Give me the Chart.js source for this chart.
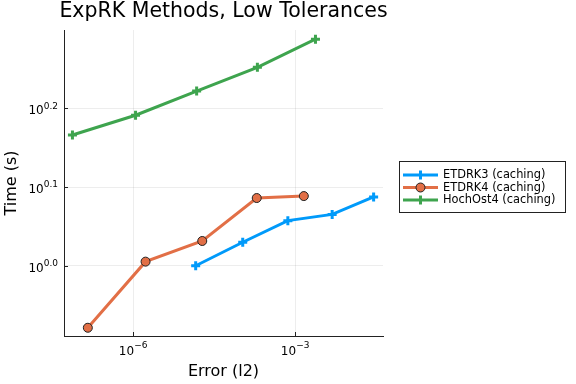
<!DOCTYPE html>
<html><head><meta charset="utf-8">
<script src="https://cdn.jsdelivr.net/npm/chart.js@4/dist/chart.umd.min.js"></script>
<style>html,body{margin:0;padding:0;background:#fff;}canvas{display:block;}</style>
</head><body>
<canvas id="c" width="576" height="384"></canvas>
<script>
const titleText = 'ExpRK Methods, Low Tolerances';
const xLabel = 'Error (l2)';
const yLabel = 'Time (s)';
const seriesNames = ['ETDRK3 (caching)', 'ETDRK4 (caching)', 'HochOst4 (caching)'];
const seriesColors = ['#009AFA', '#E26F46', '#3EA44E'];

const errETDRK3  = [1.44e-5, 1.07e-4, 7.33e-4, 4.85e-3, 2.84e-2];
const timeETDRK3 = [1.000, 1.071, 1.141, 1.162, 1.223];
const errETDRK4  = [1.45e-7, 1.70e-6, 1.905e-5, 1.945e-4, 1.449e-3];
const timeETDRK4 = [0.834, 1.012, 1.075, 1.219, 1.226];
const errHochOst4  = [7.52e-8, 1.109e-6, 1.50e-5, 2.00e-4, 2.38e-3];
const timeHochOst4 = [1.466, 1.553, 1.667, 1.787, 1.940];

const xTickExps = [-6, -3];
const xTickLabels = ['\u22126', '\u22123'];
const yTickExps = [0.0, 0.1, 0.2];
const yTickLabels = ['0.0', '0.1', '0.2'];

const xMin = Math.pow(10, -7.280), xMax = Math.pow(10, -1.373);
const yMin = Math.pow(10, -0.0893), yMax = Math.pow(10, 0.2995);

const FONT = '"DejaVu Sans", sans-serif';
const pts = (xs, ys) => xs.map((x, i) => ({x: x, y: ys[i]}));

const decor = {
  id: 'decor',
  afterDraw(chart) {
    const ctx = chart.ctx, a = chart.chartArea;
    const xs = chart.scales.x, ys = chart.scales.y;
    ctx.save();
    // tick marks
    ctx.strokeStyle = '#222'; ctx.lineWidth = 1;
    xTickExps.forEach(e => {
      const px = Math.round(xs.getPixelForValue(Math.pow(10, e))) + 0.5;
      ctx.beginPath(); ctx.moveTo(px, a.bottom); ctx.lineTo(px, a.bottom - 4); ctx.stroke();
    });
    yTickExps.forEach(e => {
      const py = Math.round(ys.getPixelForValue(Math.pow(10, e))) + 0.5;
      ctx.beginPath(); ctx.moveTo(a.left, py); ctx.lineTo(a.left + 4, py); ctx.stroke();
    });
    ctx.fillStyle = '#000';
    // x tick labels
    xTickExps.forEach((e, i) => {
      const px = xs.getPixelForValue(Math.pow(10, e));
      ctx.font = '12px ' + FONT;
      const w1 = ctx.measureText('10').width;
      ctx.font = '9px ' + FONT;
      const w2 = ctx.measureText(xTickLabels[i]).width;
      const x0 = px - (w1 + w2) / 2;
      ctx.textBaseline = 'middle'; ctx.textAlign = 'left';
      ctx.font = '12px ' + FONT; ctx.fillText('10', x0, 352);
      ctx.font = '9px ' + FONT; ctx.fillText(xTickLabels[i], x0 + w1, 346);
    });
    // y tick labels
    yTickExps.forEach((e, i) => {
      const py = ys.getPixelForValue(Math.pow(10, e));
      ctx.font = '9px ' + FONT;
      const w2 = ctx.measureText(yTickLabels[i]).width;
      ctx.font = '12px ' + FONT;
      const w1 = ctx.measureText('10').width;
      const xr = a.left - 6;
      ctx.textBaseline = 'middle'; ctx.textAlign = 'left';
      ctx.fillText('10', xr - w2 - w1, py + 3);
      ctx.font = '9px ' + FONT; ctx.fillText(yTickLabels[i], xr - w2, py - 2);
    });
    // title
    ctx.font = '20.5px ' + FONT; ctx.textAlign = 'center'; ctx.textBaseline = 'middle';
    ctx.fillText(titleText, (a.left + a.right) / 2, 12);
    // axis labels
    ctx.font = '16px ' + FONT;
    ctx.fillText(xLabel, (a.left + a.right) / 2, 372);
    ctx.save(); ctx.translate(12, (a.top + a.bottom) / 2); ctx.rotate(-Math.PI / 2);
    ctx.fillText(yLabel, 0, 0); ctx.restore();
    // legend
    const bx = 399.5, by = 161.5, bw = 166, bh = 51;
    ctx.fillStyle = '#fff'; ctx.fillRect(bx, by, bw, bh);
    ctx.strokeStyle = '#222'; ctx.lineWidth = 1; ctx.strokeRect(bx, by, bw, bh);
    const rows = [175, 187.5, 200];
    seriesNames.forEach((n, i) => {
      const y = rows[i];
      ctx.strokeStyle = seriesColors[i]; ctx.lineWidth = 3;
      ctx.beginPath(); ctx.moveTo(403, y); ctx.lineTo(438, y); ctx.stroke();
      if (i === 1) {
        ctx.beginPath(); ctx.arc(420.5, y, 4.5, 0, Math.PI * 2);
        ctx.fillStyle = seriesColors[i]; ctx.fill();
        ctx.strokeStyle = '#222'; ctx.lineWidth = 1; ctx.stroke();
      } else {
        ctx.beginPath(); ctx.moveTo(420.5, y - 4.5); ctx.lineTo(420.5, y + 4.5); ctx.stroke();
      }
      ctx.fillStyle = '#000'; ctx.font = '11.4px ' + FONT; ctx.textAlign = 'left'; ctx.textBaseline = 'middle';
      ctx.fillText(n, 443, y + 0.5);
    });
    ctx.restore();
  }
};

new Chart(document.getElementById('c'), {
  type: 'line',
  data: {
    datasets: [
      {label: seriesNames[0], data: pts(errETDRK3, timeETDRK3), borderColor: seriesColors[0], backgroundColor: seriesColors[0],
       borderWidth: 3, pointStyle: 'cross', pointRadius: 4.5, pointBorderWidth: 3, tension: 0},
      {label: seriesNames[1], data: pts(errETDRK4, timeETDRK4), borderColor: seriesColors[1], backgroundColor: seriesColors[1],
       borderWidth: 3, pointStyle: 'circle', pointRadius: 4.5, pointBorderWidth: 1, pointBorderColor: '#222', pointBackgroundColor: seriesColors[1], tension: 0},
      {label: seriesNames[2], data: pts(errHochOst4, timeHochOst4), borderColor: seriesColors[2], backgroundColor: seriesColors[2],
       borderWidth: 3, pointStyle: 'cross', pointRadius: 4.5, pointBorderWidth: 3, tension: 0}
    ]
  },
  options: {
    responsive: false, animation: false,
    layout: {padding: {left: 64, top: 30, right: 193, bottom: 48}},
    plugins: {legend: {display: false}, title: {display: false}, tooltip: {enabled: false}},
    scales: {
      x: {type: 'logarithmic', min: xMin, max: xMax,
          afterBuildTicks: s => { s.ticks = xTickExps.map(e => ({value: Math.pow(10, e)})); },
          ticks: {display: false}, grid: {color: 'rgba(0,0,0,0.07)', drawTicks: false, lineWidth: 1},
          border: {color: '#222', width: 1}, afterFit: s => { s.height = 0; }},
      y: {type: 'logarithmic', min: yMin, max: yMax,
          afterBuildTicks: s => { s.ticks = yTickExps.map(e => ({value: Math.pow(10, e)})); },
          ticks: {display: false}, grid: {color: 'rgba(0,0,0,0.07)', drawTicks: false, lineWidth: 1},
          border: {color: '#222', width: 1}, afterFit: s => { s.width = 0; }}
    }
  },
  plugins: [decor]
});
</script>
</body></html>
